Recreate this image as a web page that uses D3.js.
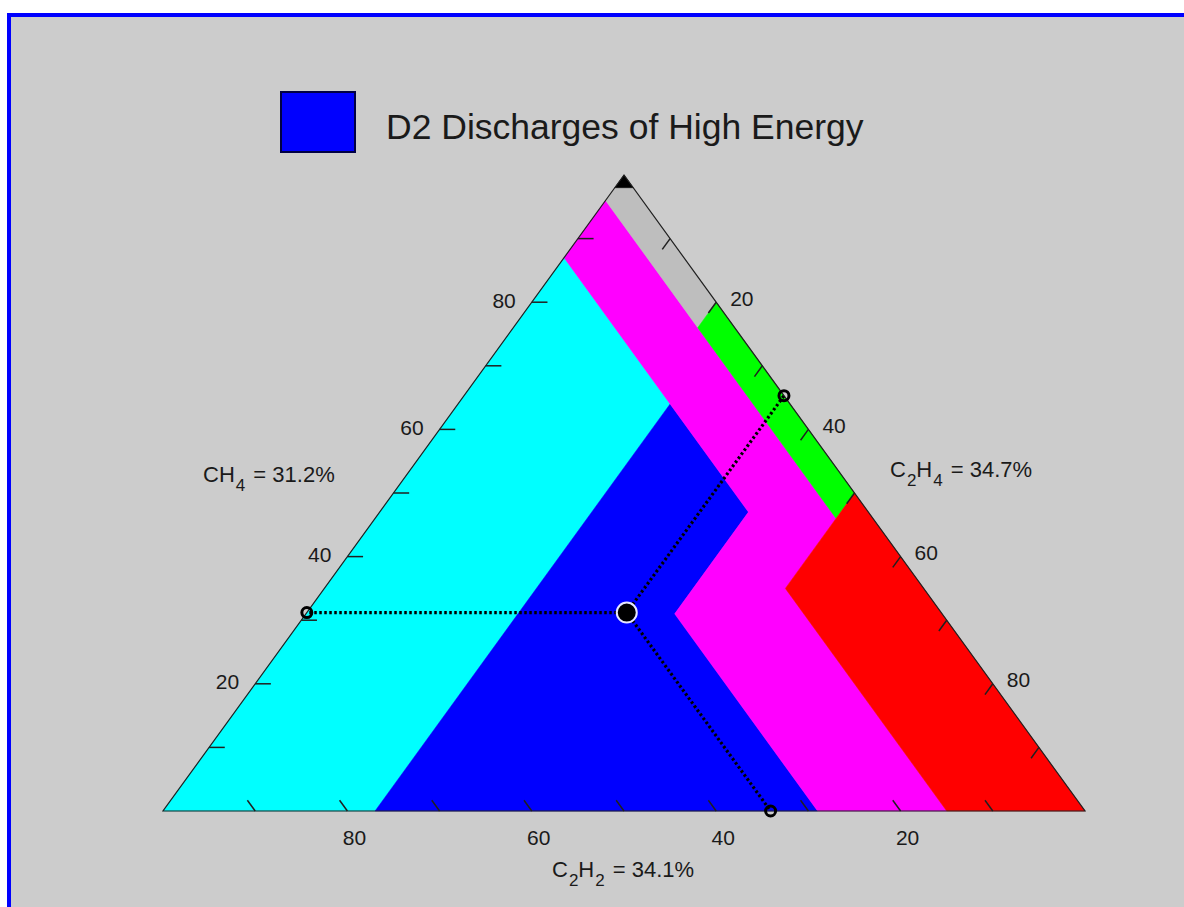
<!DOCTYPE html>
<html>
<head>
<meta charset="utf-8">
<script src="https://d3js.org/d3.v7.min.js"></script>
<style>
  body { margin: 0; background: #ffffff; }
  svg { display: block; }
  text { font-family: "Liberation Sans", Arial, Helvetica, sans-serif; fill: #1a1a1a; }
</style>
</head>
<body>
<div id="container"></div>
<script>
// gas percentages of the sample
var gasCH4 = 31.2, gasC2H4 = 34.7, gasC2H2 = 34.1;

// Duval zones, vertices as [CH4, C2H4, C2H2] in %
var zoneNames = ["D1", "D2", "DT", "T1", "T2", "T3", "PD"];
var zoneColors = ["#00ffff", "#0000ff", "#ff00ff", "#bebebe", "#00ff00", "#ff0000", "#000000"];
var zonePoints = [
  [[87, 0, 13], [0, 0, 100], [0, 23, 77], [64, 23, 13]],
  [[64, 23, 13], [0, 23, 77], [0, 71, 29], [31, 40, 29], [47, 40, 13]],
  [[96, 0, 4], [76, 20, 4], [46, 50, 4], [35, 50, 15], [0, 85, 15], [0, 71, 29], [31, 40, 29], [47, 40, 13], [64, 23, 13], [87, 0, 13]],
  [[98, 0, 2], [98, 2, 0], [80, 20, 0], [76, 20, 4], [96, 0, 4]],
  [[80, 20, 0], [50, 50, 0], [46, 50, 4], [76, 20, 4]],
  [[50, 50, 0], [0, 100, 0], [0, 85, 15], [35, 50, 15], [46, 50, 4]],
  [[100, 0, 0], [98, 2, 0], [98, 0, 2]]
];

var tickValues = [10, 20, 30, 40, 50, 60, 70, 80, 90];
var tickLabels = [20, 40, 60, 80];
var legendLabel = "D2 Discharges of High Energy";

var width = 1184, height = 907;

var svg = d3.select("#container").append("svg")
    .attr("width", width)
    .attr("height", height);

// figure panel
svg.append("rect")
    .attr("x", 9).attr("y", 15)
    .attr("width", 1200).attr("height", 920)
    .attr("fill", "#cccccc")
    .attr("stroke", "#0000ff")
    .attr("stroke-width", 4);

// ternary -> screen
var x = d3.scaleLinear().domain([0, 100]).range([163, 1085]);
var y = d3.scaleLinear().domain([0, 100]).range([811, 175]);
function px(p) { return x(p[1] + p[0] / 2); }
function py(p) { return y(p[0]); }
function pt(p) { return [px(p), py(p)]; }

var line = d3.line();

svg.selectAll("path.zone")
  .data(zonePoints)
  .enter()
  .append("path")
    .attr("class", "zone")
    .attr("d", function(d) { return line(d.map(pt)) + "Z"; })
    .attr("fill", function(d, i) { return zoneColors[i]; })
    .attr("stroke", function(d, i) { return zoneColors[i]; })
    .attr("stroke-width", 0.5);

// outline
svg.append("path")
    .attr("d", line([[100, 0, 0], [0, 0, 100], [0, 100, 0]].map(pt)) + "Z")
    .attr("fill", "none")
    .attr("stroke", "#202020")
    .attr("stroke-width", 1.2);

var tickLen = 1.7;
var ticks = svg.append("g").attr("stroke", "#202020").attr("stroke-width", 1.5);
tickValues.forEach(function(v) {
  // left axis: CH4
  var a = [v, 0, 100 - v], b = [v, tickLen, 100 - v - tickLen];
  ticks.append("path").attr("d", line([pt(a), pt(b)]));
  // right axis: C2H4
  a = [100 - v, v, 0]; b = [100 - v - tickLen, v, tickLen];
  ticks.append("path").attr("d", line([pt(a), pt(b)]));
  // bottom axis: C2H2
  a = [0, 100 - v, v]; b = [tickLen, 100 - v - tickLen, v];
  ticks.append("path").attr("d", line([pt(a), pt(b)]));
});

var labels = svg.append("g").attr("font-size", 21);
tickLabels.forEach(function(v) {
  var l = [v, 0, 100 - v];
  labels.append("text")
      .attr("x", px(l) - 16).attr("y", py(l) - 2)
      .attr("text-anchor", "end").attr("dominant-baseline", "central")
      .text(v);
  var r = [100 - v, v, 0];
  labels.append("text")
      .attr("x", px(r) + 14).attr("y", py(r) - 4)
      .attr("dominant-baseline", "central")
      .text(v);
  var b = [0, 100 - v, v];
  labels.append("text")
      .attr("x", px(b) + 7).attr("y", py(b) + 26)
      .attr("text-anchor", "middle").attr("dominant-baseline", "central")
      .text(v);
});

// gas labels with subscripts
function gasLabel(xp, yp, parts, value) {
  var t = svg.append("text").attr("x", xp).attr("y", yp).attr("font-size", 22);
  var shift = 0;
  parts.forEach(function(s) {
    t.append("tspan").attr("dy", -shift).text(s[0]);
    t.append("tspan").attr("font-size", 17).attr("dy", 9).attr("dx", 1).text(s[1]);
    shift = 9;
  });
  t.append("tspan").attr("dy", -shift).attr("dx", 2).text(" = " + value.toFixed(1) + "%");
}
gasLabel(203, 482, [["CH", "4"]], gasCH4);
gasLabel(890, 477, [["C", "2"], ["H", "4"]], gasC2H4);
gasLabel(552, 877, [["C", "2"], ["H", "2"]], gasC2H2);

// projection lines from the sample point to each axis
var sample = [gasCH4, gasC2H4, gasC2H2];
var ends = [
  [gasCH4, 0, 100 - gasCH4],
  [100 - gasC2H4, gasC2H4, 0],
  [0, 100 - gasC2H2, gasC2H2]
];
svg.selectAll("path.guide")
  .data(ends)
  .enter()
  .append("path")
    .attr("class", "guide")
    .attr("d", function(d) { return line([pt(sample), pt(d)]); })
    .attr("stroke", "#000000")
    .attr("stroke-width", 3.2)
    .attr("stroke-dasharray", "2.5,2.5")
    .attr("fill", "none");

svg.selectAll("circle.end")
  .data(ends)
  .enter()
  .append("circle")
    .attr("class", "end")
    .attr("cx", px).attr("cy", py)
    .attr("r", 5)
    .attr("fill", "none")
    .attr("stroke", "#000000")
    .attr("stroke-width", 3);

svg.append("circle")
    .attr("cx", px(sample)).attr("cy", py(sample))
    .attr("r", 10)
    .attr("fill", "#000000")
    .attr("stroke", "#e6e6ff")
    .attr("stroke-width", 2);

// legend
svg.append("rect")
    .attr("x", 281).attr("y", 92)
    .attr("width", 74).attr("height", 60)
    .attr("fill", zoneColors[1])
    .attr("stroke", "#000044")
    .attr("stroke-width", 2);
svg.append("text")
    .attr("x", 386).attr("y", 139)
    .attr("font-size", 35.5)
    .text(legendLabel);
</script>
</body>
</html>
